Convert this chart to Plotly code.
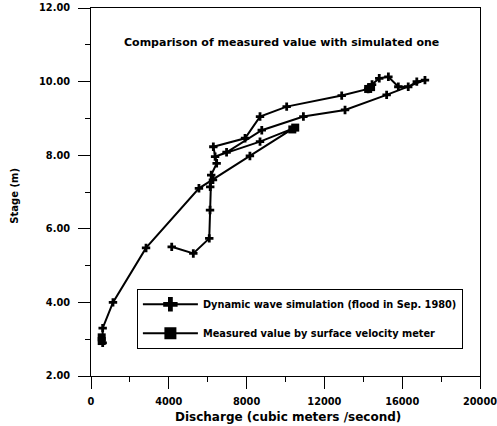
import plotly.graph_objects as go

# Simulated stage-discharge (dynamic wave simulation, flood in Sep. 1980)
sim_q = [4150, 5260, 6080, 6120, 6130, 6180, 6460, 6290, 7920, 8690, 10060, 12890,
         14250, 14450, 14820, 15290, 15800, 16310, 16750, 17170, 15200, 13060, 10920,
         8780, 6970, 6380, 8690, 10400, 8170, 6270, 5550, 2830, 1130, 600, 600]
sim_h = [5.51, 5.33, 5.74, 6.51, 7.14, 7.46, 7.78, 8.23, 8.46, 9.05, 9.32, 9.62,
         9.80, 9.92, 10.09, 10.13, 9.86, 9.86, 10.00, 10.04, 9.64, 9.23, 9.05,
         8.68, 8.08, 7.96, 8.37, 8.73, 7.98, 7.33, 7.10, 5.48, 4.00, 3.30, 2.90]

# Measured values by surface velocity meter (None separates groups)
meas_q = [550, 550, None, 10350, 10500, None, 14250, 14400]
meas_h = [2.95, 3.05, None, 8.70, 8.75, None, 9.80, 9.85]

x_ticks = [0, 4000, 8000, 12000, 16000, 20000]
y_ticks = [2, 4, 6, 8, 10, 12]

sim_name = "Dynamic wave simulation (flood in Sep. 1980)"
meas_name = "Measured value by surface velocity meter"

FONT = "DejaVu Sans"

fig = go.Figure()
fig.add_trace(go.Scatter(
    x=sim_q, y=sim_h, mode="lines+markers", showlegend=False,
    line=dict(color="black", width=2),
    marker=dict(symbol="cross", size=7, color="black"),
))
fig.add_trace(go.Scatter(
    x=meas_q, y=meas_h, mode="lines+markers", showlegend=False,
    line=dict(color="black", width=2),
    marker=dict(symbol="square", size=8, color="black"),
    connectgaps=False,
))
# legend entries (larger symbols, as in the original legend)
fig.add_trace(go.Scatter(
    x=[None], y=[None], mode="lines+markers", name=sim_name,
    legendgroup="a",
    line=dict(color="black", width=2),
    marker=dict(symbol="cross", size=12, color="black"),
))
fig.add_trace(go.Scatter(
    x=[None], y=[None], mode="lines+markers", name=meas_name,
    legendgroup="b",
    line=dict(color="black", width=2),
    marker=dict(symbol="square", size=12, color="black"),
))

fig.update_layout(
    width=497, height=426,
    margin=dict(l=91, r=17, t=8, b=50, autoexpand=False),
    paper_bgcolor="white", plot_bgcolor="white",
    font=dict(family=FONT, color="black", size=10),
    showlegend=True,
    legend=dict(
        x=0.118, y=0.237, xanchor="left", yanchor="top",
        bordercolor="black", borderwidth=1, bgcolor="white",
        font=dict(family=FONT, size=9.8, color="black", weight="bold"),
        itemwidth=55, traceorder="grouped", tracegroupgap=10,
    ),
    annotations=[
        dict(text="<b>Comparison of measured value with simulated one</b>",
             x=0.49, y=0.93, xref="paper", yref="paper", showarrow=False,
             font=dict(family=FONT, size=11, color="black")),
        dict(text="<b>Discharge (cubic meters /second)</b>",
             x=0.507, y=0, yshift=-41, xref="paper", yref="paper",
             showarrow=False, yanchor="middle",
             font=dict(family=FONT, size=12, color="black")),
        dict(text="<b>Stage (m)</b>", textangle=-90,
             x=0, xshift=-76, y=0.49, xref="paper", yref="paper",
             showarrow=False, xanchor="center",
             font=dict(family=FONT, size=10, color="black")),
    ],
)

fig.update_xaxes(
    range=[0, 20000], tickvals=x_ticks, tickformat="d", automargin=False,
    showline=True, linecolor="black", linewidth=1, mirror=True,
    ticks="outside", ticklen=12, tickcolor="black", ticklabelstandoff=4,
    ticklabeloverflow="allow",
    showgrid=False, zeroline=False,
    minor=dict(dtick=2000, tick0=0, ticks="outside", ticklen=5, tickcolor="black"),
    tickfont=dict(family=FONT, size=9.8, weight="bold", color="black"),
)
fig.update_yaxes(
    range=[2, 12], tickvals=y_ticks, tickformat=".2f", automargin=False,
    showline=True, linecolor="black", linewidth=1, mirror=True,
    ticks="outside", ticklen=12, tickcolor="black", ticklabelstandoff=6,
    ticklabeloverflow="allow",
    showgrid=False, zeroline=False,
    minor=dict(dtick=1, tick0=0, ticks="outside", ticklen=5, tickcolor="black"),
    tickfont=dict(family=FONT, size=9.8, weight="bold", color="black"),
)

fig.write_html(
    "out.html",
    config={"displayModeBar": False},
    post_script="document.body.style.margin='0';document.body.style.overflow='hidden';",
)
